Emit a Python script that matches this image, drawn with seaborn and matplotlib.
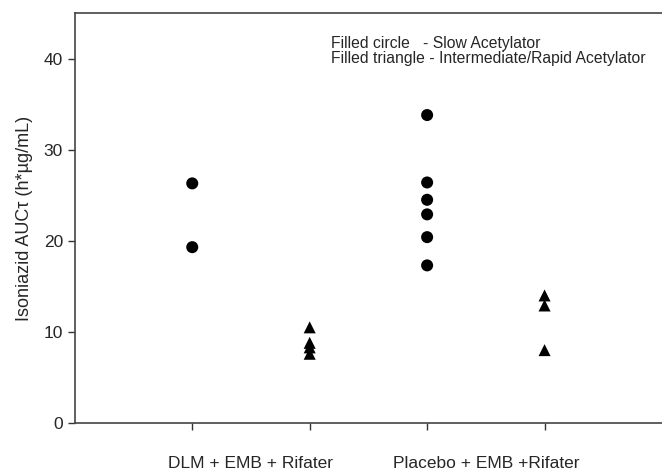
import matplotlib
matplotlib.use('Agg')
import matplotlib.pyplot as plt
import seaborn as sns
import pandas as pd

# values
dlm_slow = [26.3, 19.3]
dlm_rapid = [10.5, 8.8, 8.3, 7.6]
pla_slow = [33.8, 26.4, 24.5, 22.9, 20.4, 17.3]
pla_rapid = [14.0, 12.9, 8.0]

group_pos = [1, 2, 3, 4]
group_labels = ['DLM + EMB + Rifater', 'Placebo + EMB +Rifater']
y_ticks = [0, 10, 20, 30, 40]

rows = []
for pos, vals, kind in zip(group_pos, [dlm_slow, dlm_rapid, pla_slow, pla_rapid],
                           ['Slow', 'Rapid', 'Slow', 'Rapid']):
    for v in vals:
        rows.append({'x': pos, 'auc': v, 'acet': kind})
df = pd.DataFrame(rows)

sns.set_style('white')
plt.rcParams['font.family'] = ['Liberation Sans', 'DejaVu Sans']

fig = plt.figure(figsize=(6.62, 4.73), dpi=100)
ax = fig.add_axes([0.113, 0.1057, 0.887, 0.8668])

sns.scatterplot(data=df, x='x', y='auc', style='acet', markers={'Slow': 'o', 'Rapid': '^'},
                color='black', s=75, edgecolor='black', linewidth=0, legend=False, ax=ax)

ax.set_xlim(0, 5)
ax.set_ylim(0, 45)
ax.set_yticks(y_ticks)
ax.set_xticks(group_pos)
ax.set_xticklabels([])
ax.set_xticks([1.5, 3.5], minor=True)
ax.set_xticklabels(group_labels, minor=True, fontsize=12.5)
ax.tick_params(axis='x', which='minor', length=0, pad=24)
ax.tick_params(axis='both', which='major', direction='out', length=5, width=1,
               color='#333333', labelsize=12.5, left=True, bottom=True)
ax.set_xlabel('')
ax.set_ylabel('Isoniazid AUCτ (h*µg/mL)', fontsize=13, labelpad=8)

for side in ['left', 'bottom', 'top']:
    ax.spines[side].set_color('#444444')
    ax.spines[side].set_linewidth(1.2)
ax.spines['right'].set_visible(False)

ax.text(0.436, 0.925, 'Filled circle   - Slow Acetylator',
        transform=ax.transAxes, fontsize=11.3, va='center', ha='left')
ax.text(0.436, 0.888, 'Filled triangle - Intermediate/Rapid Acetylator',
        transform=ax.transAxes, fontsize=11.3, va='center', ha='left')

fig.savefig('out.png', dpi=100)
